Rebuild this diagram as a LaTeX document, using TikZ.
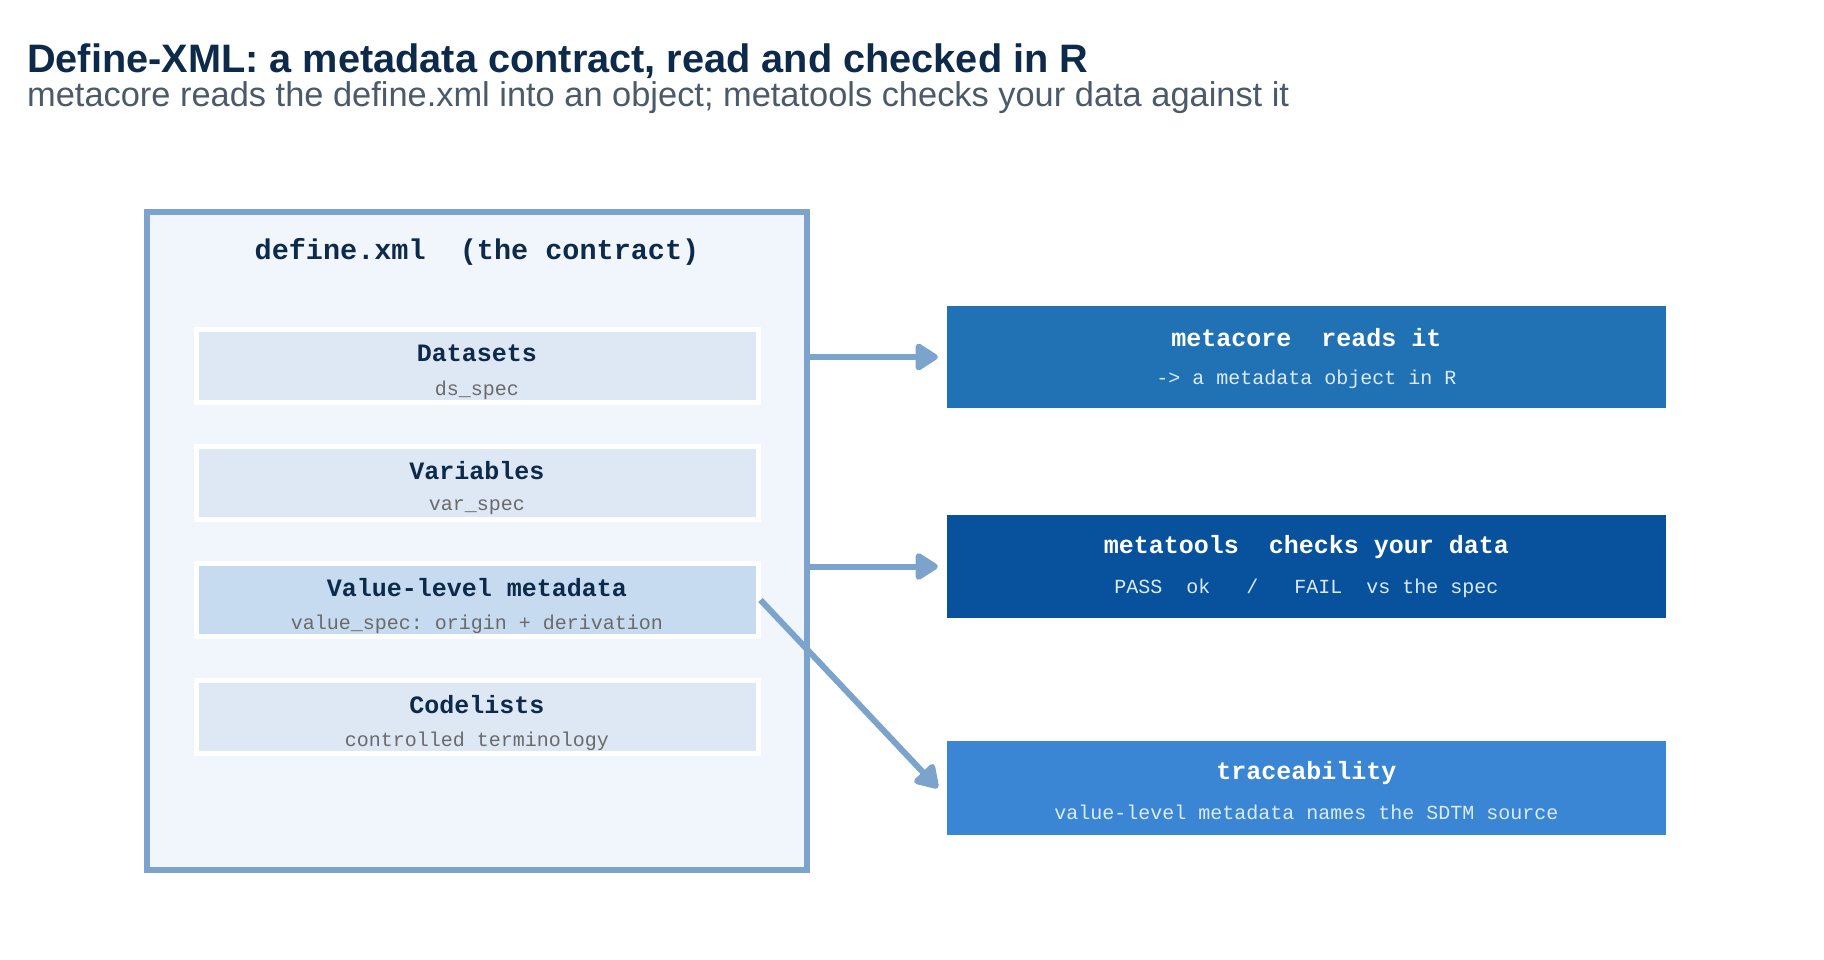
\documentclass[tikz,border=0pt]{standalone}
\usepackage{fontspec}
\setmainfont{Liberation Sans}
\setmonofont{Liberation Mono}
\usetikzlibrary{arrows.meta}
\definecolor{navy}{HTML}{0D2A4B}
\definecolor{subgray}{HTML}{4B5A6A}
\definecolor{edgeblue}{HTML}{7BA3CC}
\definecolor{outerfill}{HTML}{F0F6FB}
\definecolor{innerfill}{HTML}{DDE8F4}
\definecolor{valuefill}{HTML}{C6DBEF}
\definecolor{monogray}{HTML}{6A6A6A}
\definecolor{mcblue}{HTML}{2171B5}
\definecolor{mtblue}{HTML}{08519C}
\definecolor{trblue}{HTML}{3A86D4}
\definecolor{lighttext}{HTML}{DCEBFA}
\begin{document}
\begin{tikzpicture}[x=1pt,y=-1pt,
  inbox/.style={draw=white, line width=5pt, minimum width=562pt, minimum height=73pt, inner sep=0pt},
  boxtitle/.style={font=\ttfamily\bfseries\fontsize{25}{30}\selectfont, text=navy, inner sep=0pt},
  boxsub/.style={font=\ttfamily\fontsize{20}{24}\selectfont, text=monogray, inner sep=0pt},
  rbox/.style={minimum width=719pt, inner sep=0pt, draw=none},
  rtitle/.style={font=\ttfamily\bfseries\fontsize{25}{30}\selectfont, text=white, inner sep=0pt},
  rsub/.style={font=\ttfamily\fontsize{20}{24}\selectfont, text=lighttext, inner sep=0pt},
  conn/.style={draw=edgeblue, line width=6pt, -{Triangle[length=25pt,width=30pt,round]}}
]
\useasboundingbox (0,0) rectangle (1824,960);
\fill[white] (0,0) rectangle (1824,960);

\node[font=\bfseries\fontsize{39.7}{46}\selectfont, text=navy, anchor=west, inner sep=0pt] (title) at (27,61) {Define-XML: a metadata contract, read and checked in R};
\node[font=\fontsize{34.4}{40}\selectfont, text=subgray, anchor=west, inner sep=0pt] (subtitle) at (27,98) {metacore reads the define.xml into an object; metatools checks your data against it};

\node[draw=edgeblue, line width=6pt, fill=outerfill, minimum width=660pt, minimum height=658pt, inner sep=0pt] (contract) at (477,541) {};
\node[font=\ttfamily\bfseries\fontsize{28.5}{34}\selectfont, text=navy, inner sep=0pt] (contractT) at (477,251.5) {define.xml\ \ (the contract)};

\node[inbox, fill=innerfill] (ds) at (477,366) {};
\node[boxtitle] (dsT) at (477,353.5) {Datasets};
\node[boxsub] (dsS) at (477,390.5) {ds\_spec};

\node[inbox, fill=innerfill] (var) at (477,483) {};
\node[boxtitle] (varT) at (477,470.5) {Variables};
\node[boxsub] (varS) at (477,507.5) {var\_spec};

\node[inbox, fill=valuefill] (vl) at (477,600) {};
\node[boxtitle] (vlT) at (477,587.5) {Value-level metadata};
\node[boxsub] (vlS) at (477,624.5) {value\_spec: origin + derivation};

\node[inbox, fill=innerfill] (cl) at (477,717) {};
\node[boxtitle] (clT) at (477,704.5) {Codelists};
\node[boxsub] (clS) at (477,741.5) {controlled terminology};

\node[rbox, fill=mcblue, minimum height=102pt] (mc) at (1306.5,357) {};
\node[rtitle] (mcT) at (1306.5,337.5) {metacore\ \ reads it};
\node[rsub] (mcS) at (1306.5,379) {-> a metadata object in R};

\node[rbox, fill=mtblue, minimum height=103pt] (mt) at (1306.5,566.5) {};
\node[rtitle] (mtT) at (1306.5,547.5) {metatools\ \ checks your data};
\node[rsub] (mtS) at (1306.5,588.5) {PASS\ \ ok\ \ \ /\ \ \ FAIL\ \ vs the spec};

\node[rbox, fill=trblue, minimum height=94pt] (tr) at (1306.5,788) {};
\node[rtitle] (trT) at (1306.5,773.5) {traceability};
\node[rsub] (trS) at (1306.5,812.5) {value-level metadata names the SDTM source};

\draw[conn] (contract.east |- mc) -- ([xshift=-9pt]mc.west);
\draw[conn] (contract.east |- mt) -- ([xshift=-9pt]mt.west);
\draw[conn] (vl.east) -- ([xshift=-9pt]tr.west);
\end{tikzpicture}
\end{document}
